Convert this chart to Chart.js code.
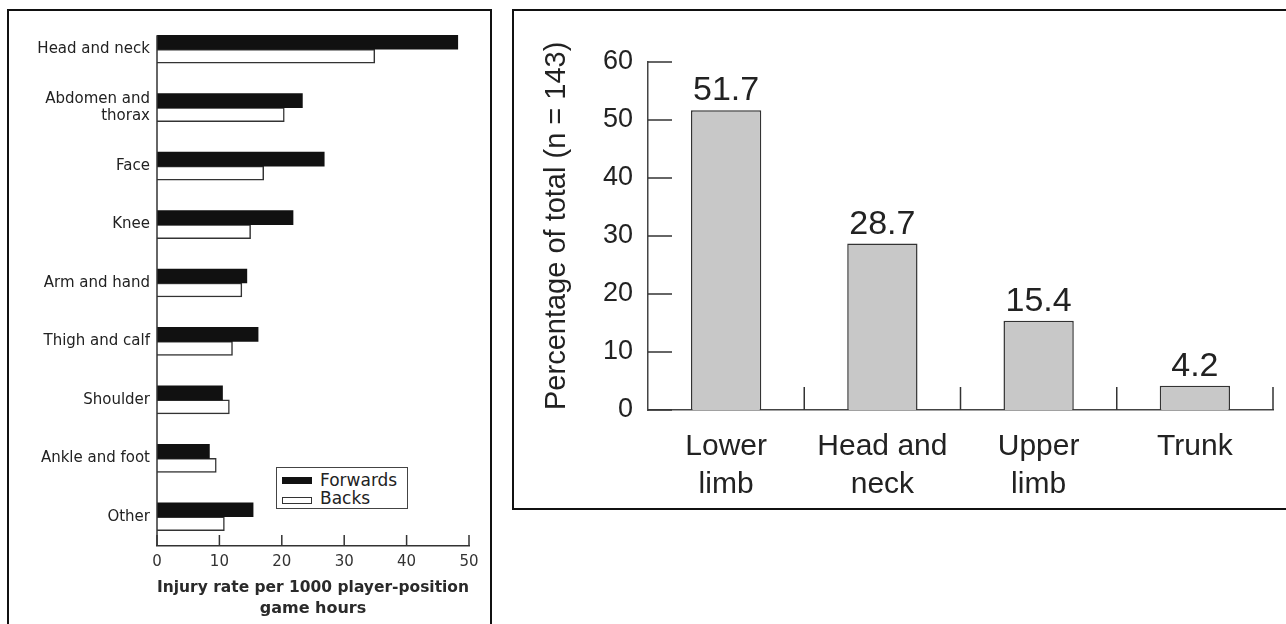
<!DOCTYPE html>
<html><head><meta charset="utf-8">
<script src="https://cdn.jsdelivr.net/npm/chart.js@4.4.1/dist/chart.umd.min.js"></script>
<style>
html,body{margin:0;padding:0;background:#fff;width:1286px;height:624px;overflow:hidden;position:relative}
.box{position:absolute;border:2.5px solid #111;box-sizing:border-box}
#boxL{left:7px;top:9px;width:485px;height:700px}
#boxR{left:512px;top:9px;width:900px;height:501px}
#cL{position:absolute;left:0;top:0}
#cR{position:absolute;left:515px;top:11px}
#legend{position:absolute;left:276px;top:467px;width:132px;height:42px;border:1.5px solid #444;box-sizing:border-box;font-family:"DejaVu Sans",sans-serif;font-size:17px;color:#222;background:#fff}
#legend .sw{position:absolute;left:5px;width:30px;height:7px;box-sizing:border-box}
#legend .tx{position:absolute;left:43px;line-height:18px;white-space:nowrap}
</style>
</head><body>
<div class="box" id="boxL"></div>
<div class="box" id="boxR"></div>
<canvas id="cL" width="500" height="624"></canvas>
<canvas id="cR" width="767" height="496"></canvas>
<div id="legend"></div>
<script>
// ---- Left chart data ----
const leftCategories = ['Head and neck', ['Abdomen and', 'thorax'], 'Face', 'Knee', 'Arm and hand', 'Thigh and calf', 'Shoulder', 'Ankle and foot', 'Other'];
const forwards = [48.2, 23.3, 26.8, 21.8, 14.4, 16.2, 10.5, 8.4, 15.4];
const backs    = [34.9, 20.4, 17.1, 15.0, 13.6, 12.1, 11.6, 9.5, 10.8];
const leftSeriesNames = ['Forwards', 'Backs'];
const leftAxisTitle = ['Injury rate per 1000 player-position', 'game hours'];
const leftTickMax = 50, leftTickStep = 10;

// ---- Right chart data ----
const rightCategories = [['Lower', 'limb'], ['Head and', 'neck'], ['Upper', 'limb'], ['Trunk']];
const percentages = [51.7, 28.7, 15.4, 4.2];
const rightAxisTitle = 'Percentage of total (n = 143)';
const rightTickMax = 60, rightTickStep = 10;

Chart.defaults.animation = false;
Chart.defaults.devicePixelRatio = 1;
Chart.defaults.plugins.tooltip.enabled = false;
Chart.defaults.plugins.legend.display = false;

const DV = '"DejaVu Sans", sans-serif';
const LS = '"Liberation Sans", Arial, sans-serif';

const leftAxesPlugin = {
  id: 'leftAxes',
  afterDraw(chart) {
    const {ctx, scales: {x, y}} = chart;
    ctx.save();
    ctx.strokeStyle = '#333';
    ctx.lineWidth = 1.5;
    x.ticks.forEach(t => {
      const px = x.getPixelForValue(t.value);
      ctx.beginPath(); ctx.moveTo(px, x.top); ctx.lineTo(px, x.top - 11); ctx.stroke();
    });
    const first = chart.getDatasetMeta(0).data[0];
    const topY = first.y - first.height / 2;
    ctx.beginPath(); ctx.moveTo(x.left, topY); ctx.lineTo(x.left, x.top); ctx.stroke();
    ctx.restore();
  }
};

const chartL = new Chart(document.getElementById('cL'), {
  type: 'bar',
  data: {
    labels: leftCategories,
    datasets: [
      {label: leftSeriesNames[0], data: forwards, backgroundColor: '#111', borderWidth: 0, barThickness: 14},
      {label: leftSeriesNames[1], data: backs, backgroundColor: '#fff', borderColor: '#333', borderWidth: 1.5, barThickness: 14}
    ]
  },
  options: {
    indexAxis: 'y',
    responsive: false,
    layout: {padding: {top: 20, right: 31, bottom: 0, left: 0}},
    scales: {
      x: {
        min: 0, max: leftTickMax,
        ticks: {stepSize: leftTickStep, padding: 7, color: '#333', font: {family: DV, size: 15}},
        grid: {display: false, drawTicks: false},
        border: {display: true, color: '#333', width: 1.5},
        title: {display: true, text: leftAxisTitle, color: '#2a2a2a', font: {family: DV, size: 16, weight: 'bold', lineHeight: 1.3125}, padding: {top: 0, bottom: 4.5}},
        afterFit(s) { s.height = 78; }
      },
      y: {
        ticks: {padding: 7, color: '#222', font: {family: DV, size: 15, lineHeight: 1.15}},
        grid: {display: false, drawTicks: false},
        border: {display: false},
        afterFit(s) { s.width = 157; }
      }
    }
  },
  plugins: [leftAxesPlugin]
});

// HTML legend built from datasets
(function () {
  const lg = document.getElementById('legend');
  chartL.data.datasets.forEach((ds, i) => {
    const sw = document.createElement('div');
    sw.className = 'sw';
    sw.style.top = (8.5 + i * 20) + 'px';
    sw.style.background = ds.backgroundColor;
    if (ds.borderWidth) sw.style.border = '1.2px solid ' + ds.borderColor;
    const tx = document.createElement('div');
    tx.className = 'tx';
    tx.style.top = (2.5 + i * 18.5) + 'px';
    tx.textContent = ds.label;
    lg.appendChild(sw); lg.appendChild(tx);
  });
})();

const rightAxesPlugin = {
  id: 'rightAxes',
  afterDraw(chart) {
    const {ctx, scales: {x, y}} = chart;
    ctx.save();
    ctx.strokeStyle = '#333';
    ctx.lineWidth = 1.5;
    y.ticks.forEach(t => {
      const py = y.getPixelForValue(t.value);
      ctx.beginPath(); ctx.moveTo(y.right, py); ctx.lineTo(y.right + 24, py); ctx.stroke();
    });
    const n = chart.data.labels.length;
    const band = (x.right - x.left) / n;
    for (let i = 1; i <= n; i++) {
      const bx = x.left + i * band;
      ctx.beginPath(); ctx.moveTo(bx, x.top); ctx.lineTo(bx, x.top - 23); ctx.stroke();
    }
    ctx.restore();
  },
  afterDatasetsDraw(chart) {
    const {ctx} = chart;
    const meta = chart.getDatasetMeta(0);
    ctx.save();
    ctx.fillStyle = '#222';
    ctx.font = '34px ' + LS;
    ctx.textAlign = 'center';
    ctx.textBaseline = 'alphabetic';
    meta.data.forEach((bar, i) => {
      ctx.fillText(chart.data.datasets[0].data[i].toFixed(1), bar.x, bar.y - 10);
    });
    ctx.restore();
  }
};

new Chart(document.getElementById('cR'), {
  type: 'bar',
  data: {
    labels: rightCategories,
    datasets: [{label: 'Percentage', data: percentages, backgroundColor: '#c8c8c8', borderColor: '#333', borderWidth: 1.5, barPercentage: 0.45, categoryPercentage: 1}]
  },
  options: {
    responsive: false,
    layout: {padding: {top: 51, right: 9, bottom: 0, left: 0}},
    scales: {
      x: {
        ticks: {padding: 18, color: '#222', font: {family: LS, size: 30, lineHeight: 1.25}, maxRotation: 0},
        grid: {display: false, drawTicks: false},
        border: {display: true, color: '#444', width: 1.5},
        afterFit(s) { s.height = 97; }
      },
      y: {
        min: 0, max: rightTickMax,
        ticks: {stepSize: rightTickStep, padding: 15, color: '#222', font: {family: LS, size: 27}},
        grid: {display: false, drawTicks: false},
        border: {display: true, color: '#444', width: 1.5},
        title: {display: true, text: rightAxisTitle, align: 'start', color: '#222', font: {family: LS, size: 29}, padding: {top: 25, bottom: 0}},
        afterFit(s) { s.width = 133; }
      }
    }
  },
  plugins: [rightAxesPlugin]
});
</script>
</body></html>
